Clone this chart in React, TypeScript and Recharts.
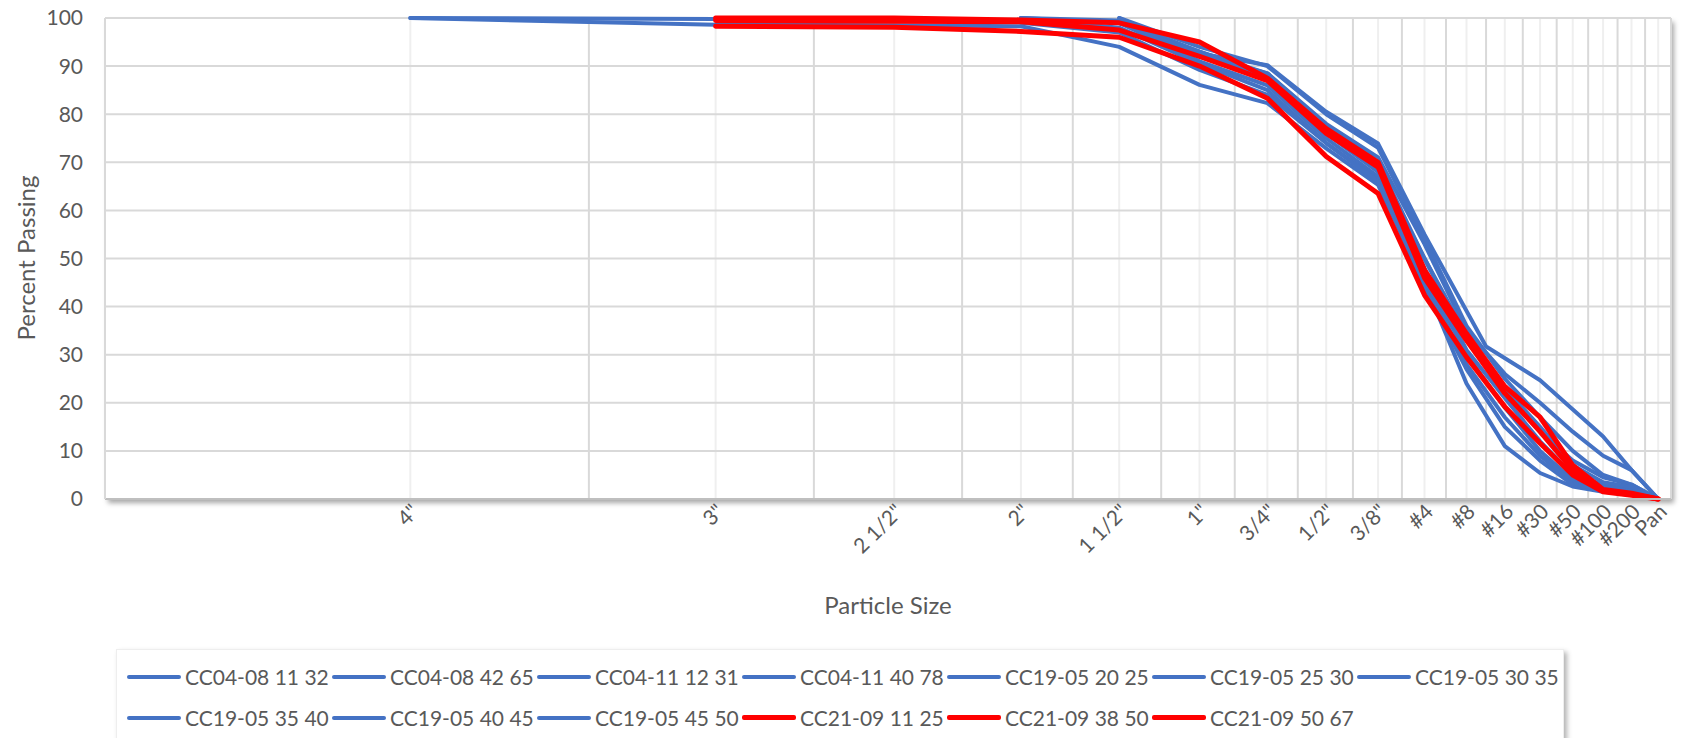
import { LineChart, Line, XAxis, YAxis, CartesianGrid } from 'recharts';

// sieve positions on the (log) x axis and their labels
const SIEVE_X = [1, 2, 3, 4, 5, 6, 7, 8, 9, 10, 11, 12, 13, 14, 15, 16, 17];
const SIEVE_LABELS = ['4"', '3"', '2 1/2"', '2"', '1 1/2"', '1"', '3/4"', '1/2"', '3/8"', '#4', '#8', '#16', '#30', '#50', '#100', '#200', 'Pan'];
// CC04-08 11 32 was run on a different sieve stack (#10 between #8 and #16)
const CC04_SIEVE_X = [1, 2, 3, 4, 5, 6, 7, 8, 9, 10, 11.5, 13, 15, 16, 17];

const GRID_MAJOR = [1, 2, 3, 4, 5, 6, 7, 8, 9, 10, 11, 12, 13, 14, 15, 16, 17];
const GRID_MINOR = [0.5, 1.5, 2.5, 3.5, 4.5, 5.5, 6.5, 7.5, 8.5, 9.5, 10.5, 11.5, 12.5, 13.5, 14.5, 15.5, 16.5, 17.5];
const Y_TICKS = [0, 10, 20, 30, 40, 50, 60, 70, 80, 90, 100];

// percent passing, null = sieve not used
const cc0408_1132 = [100, 99.8, 99.6, 99.5, 97.5, 92.6, 90.2, 80.5, 73.9, 55, 31.7, 24.7, 13, 6, 0];
const cc0408_4265 = [100, 98.6, 98.5, 98.3, 94, 86.1, 82.3, 72.9, 65.3, 45, 24, 11, 5.4, 2.6, 1.5, 1, 0];
const cc0411_1231 = [null, null, null, 100, 99, 93, 88.5, 78, 71, 53, 35, 26, 20, 14, 9, 6, 0];
const cc0411_4078 = [null, null, null, 100, 99.5, 93, 88, 77, 69, 50, 33, 22, 14, 8, 4.5, 3, 0];
const cc1905_2025 = [null, null, null, null, 100, 92, 87.5, 76, 68, 48, 31, 21, 12, 5, 3, 2, 0];
const cc1905_2530 = [null, null, null, null, 99, 91, 86, 75, 67, 47, 30, 19, 10, 4, 2.5, 2, 0];
const cc1905_3035 = [null, null, null, 100, 98, 90.5, 85, 74, 66.3, 46, 28, 17, 9, 3.5, 2, 1.5, 0];
const cc1905_3540 = [null, null, null, 99, 97, 89.2, 84, 74, 66, 44, 27, 15, 8, 3, 2, 1, 0];
const cc1905_4045 = [null, null, null, null, 100, 94, 90, 80, 73, 54, 36, 25, 17, 10, 5, 3, 0];
const cc1905_4550 = [null, null, null, null, 99, 92.5, 88.5, 77.5, 70, 50, 34, 23, 15, 7, 3.5, 2.5, 0];
const cc2109_1125 = [null, 100, 100, 99.6, 99, 95, 87.5, 77, 70, 47.6, 34.4, 23.4, 17, 7, 2, 1.2, 0];
const cc2109_3850 = [null, 99.5, 99.3, 99.2, 97.5, 92, 87, 76, 69, 46, 33, 22, 14, 6, 1.8, 1, 0];
const cc2109_5067 = [null, 98.3, 98.1, 97.2, 96, 90, 83.3, 71.2, 63.5, 42.4, 29.5, 19.2, 11.6, 5, 1.5, 0.8, 0];

const BLUE = '#4472C4';
const RED = '#FF0000';

const SERIES = [
  { name: 'CC04-08 11 32', xs: CC04_SIEVE_X, ys: cc0408_1132, color: BLUE },
  { name: 'CC04-08 42 65', xs: SIEVE_X, ys: cc0408_4265, color: BLUE },
  { name: 'CC04-11 12 31', xs: SIEVE_X, ys: cc0411_1231, color: BLUE },
  { name: 'CC04-11 40 78', xs: SIEVE_X, ys: cc0411_4078, color: BLUE },
  { name: 'CC19-05 20 25', xs: SIEVE_X, ys: cc1905_2025, color: BLUE },
  { name: 'CC19-05 25 30', xs: SIEVE_X, ys: cc1905_2530, color: BLUE },
  { name: 'CC19-05 30 35', xs: SIEVE_X, ys: cc1905_3035, color: BLUE },
  { name: 'CC19-05 35 40', xs: SIEVE_X, ys: cc1905_3540, color: BLUE },
  { name: 'CC19-05 40 45', xs: SIEVE_X, ys: cc1905_4045, color: BLUE },
  { name: 'CC19-05 45 50', xs: SIEVE_X, ys: cc1905_4550, color: BLUE },
  { name: 'CC21-09 11 25', xs: SIEVE_X, ys: cc2109_1125, color: RED },
  { name: 'CC21-09 38 50', xs: SIEVE_X, ys: cc2109_3850, color: RED },
  { name: 'CC21-09 50 67', xs: SIEVE_X, ys: cc2109_5067, color: RED },
];

const FONT = 'Lato, "Open Sans", sans-serif';
const TEXT = '#595959';

function XTick(props: any) {
  const { x, y, payload } = props;
  const label = SIEVE_LABELS[SIEVE_X.indexOf(payload.value)];
  const ax = x + 10;
  const ay = y + 14;
  return (
    <text x={ax} y={ay} transform={`rotate(-45 ${ax} ${ay})`} textAnchor="end"
      fill={TEXT} fontSize={21} fontFamily={FONT}>
      {label}
    </text>
  );
}

export default function App() {
  const lines = SERIES.map(s => ({
    ...s,
    points: s.xs.map((x, i) => ({ x, y: s.ys[i] })).filter(p => p.y !== null),
  }));

  return (
    <div style={{ position: 'absolute', left: 0, top: 0, width: 1682, height: 738, overflow: 'hidden', background: '#fff', fontFamily: FONT }}>
      {/* plot area shadow, like the Excel effect */}
      <div style={{ position: 'absolute', left: 105, top: 18, width: 1566, height: 481, background: '#fff', boxShadow: '3px 4px 5px rgba(0,0,0,0.35)' }} />

      <div style={{ position: 'absolute', left: 0, top: 0 }}>
        <LineChart width={1682} height={738} margin={{ top: 18, right: 11, left: 5, bottom: 119 }}>
          <CartesianGrid horizontal={false} verticalValues={GRID_MINOR} stroke="#d9d9d9" strokeWidth={2} />
          <CartesianGrid horizontal={false} verticalValues={GRID_MAJOR} stroke="#efefef" strokeWidth={2} />
          <CartesianGrid vertical={false} horizontalValues={Y_TICKS} stroke="#d9d9d9" strokeWidth={2} />
          <XAxis dataKey="x" type="number" scale="log" domain={[0.5, 17.5]} allowDataOverflow
            ticks={SIEVE_X} interval={0} tick={<XTick />} tickLine={false} tickSize={0} tickMargin={0}
            axisLine={{ stroke: '#bfbfbf', strokeWidth: 2 }} height={120} />
          <YAxis type="number" domain={[0, 100]} ticks={Y_TICKS} interval={0} width={100}
            tickLine={false} tickSize={0} tickMargin={22}
            axisLine={{ stroke: '#d9d9d9', strokeWidth: 2 }}
            tick={{ fill: TEXT, fontSize: 21, fontFamily: FONT }} />
          {lines.map(s => (
            <Line key={s.name} data={s.points} dataKey="y" name={s.name} type="linear"
              stroke={s.color} strokeWidth={s.color === RED ? 5 : 4} dot={false}
              strokeLinejoin="round" strokeLinecap="round" isAnimationActive={false} />
          ))}
        </LineChart>
      </div>

      <div style={{ position: 'absolute', left: 25, top: 258, transform: 'translate(-50%, -50%) rotate(-90deg)', whiteSpace: 'nowrap', fontSize: 24, color: TEXT }}>
        Percent Passing
      </div>
      <div style={{ position: 'absolute', left: 888, top: 604, transform: 'translate(-50%, -50%)', whiteSpace: 'nowrap', fontSize: 24, color: TEXT }}>
        Particle Size
      </div>

      {/* legend */}
      <div style={{ position: 'absolute', left: 116, top: 649, width: 1448, height: 100, boxSizing: 'border-box', border: '1px solid #eeeeee', boxShadow: '3px 3px 5px rgba(0,0,0,0.3)', background: '#fff', paddingLeft: 10, paddingTop: 6, display: 'flex', flexWrap: 'wrap', alignContent: 'flex-start' }}>
        {SERIES.map(s => (
          <div key={s.name} style={{ width: 205, height: 41, display: 'flex', alignItems: 'center' }}>
            <span style={{ display: 'inline-block', width: 54, height: s.color === RED ? 5 : 4, background: s.color, marginRight: 4, borderRadius: 2, flexShrink: 0 }} />
            <span style={{ fontSize: 21, color: TEXT, whiteSpace: 'nowrap' }}>{s.name}</span>
          </div>
        ))}
      </div>
    </div>
  );
}
